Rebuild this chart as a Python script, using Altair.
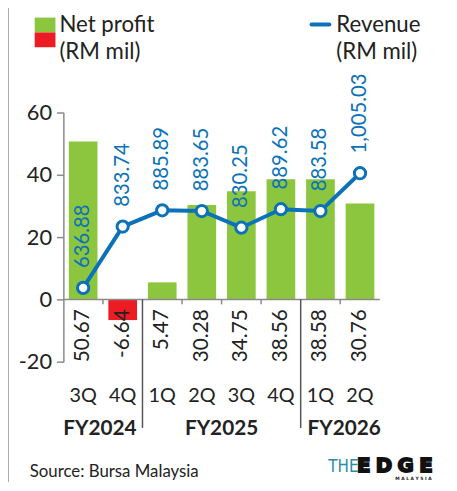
import altair as alt
import pandas as pd

keys = ["3Q FY2024", "4Q FY2024", "1Q FY2025", "2Q FY2025",
        "3Q FY2025", "4Q FY2025", "1Q FY2026", "2Q FY2026"]
quarters = ["3Q", "4Q", "1Q", "2Q", "3Q", "4Q", "1Q", "2Q"]
net_profit = [50.67, -6.64, 5.47, 30.28, 34.75, 38.56, 38.58, 30.76]
revenue = [636.88, 833.74, 885.89, 883.65, 830.25, 889.62, 883.58, 1005.03]
left_ticks = [-20, 0, 20, 40, 60]
right_ticks = [400, 800, 1200]
minor_sep = ["4Q FY2024", "2Q FY2025", "3Q FY2025", "4Q FY2025", "2Q FY2026"]
fy_sep = ["1Q FY2025", "1Q FY2026"]

GREEN = "#8cc63f"
RED = "#ed1c24"
BLUE = "#0b72b9"
GRAY = "#8a8a8a"
FONT = "Lato"
MINUS_FIX = "replace(datum.label, '\u2212', '-')"

df = pd.DataFrame({"key": keys, "q": quarters, "np": net_profit, "rev": revenue})
dummy = pd.DataFrame({"a": [0]})

X = alt.X("key:N", sort=keys, axis=None,
          scale=alt.Scale(paddingInner=0.275, paddingOuter=0.1375))
YL = alt.Scale(domain=[-20, 60], nice=False, zero=False)
YR = alt.Scale(domain=[400, 1200], nice=False, zero=False)

base = alt.Chart(df)

bars = base.mark_bar().encode(
    x=X,
    y=alt.Y("np:Q", scale=YL, title=None,
            axis=alt.Axis(values=left_ticks, grid=False, domainColor=GRAY, domainWidth=1.5,
                          tickColor=GRAY, tickWidth=1.5, tickSize=7, labelFontSize=22,
                          labelFont=FONT, labelColor="#222", labelPadding=5,
                          labelExpr=MINUS_FIX)),
    y2=alt.datum(0),
    color=alt.condition(alt.datum.np < 0, alt.value(RED), alt.value(GREEN)),
)

bar_labels = base.transform_calculate(
    lbl="replace(format(datum.np, '.2f'), '\u2212', '-')"
).mark_text(angle=270, align="right", baseline="middle", dx=-10,
            fontSize=21, font=FONT, color="#222").encode(
    x=X, y=alt.value(189), text="lbl:N")

baseline = alt.Chart(dummy).mark_rule(color=GRAY, strokeWidth=1.5).encode(
    x=alt.value(0), x2=alt.value(320), y=alt.value(189))

minor = alt.Chart(pd.DataFrame({"key": minor_sep})).mark_rule(
    color=GRAY, strokeWidth=1.5, xOffset=-20).encode(
    x=X, y=alt.value(189), y2=alt.value(194))

major = alt.Chart(pd.DataFrame({"key": fy_sep})).mark_rule(
    color="#555", strokeWidth=1.5, xOffset=-20).encode(
    x=X, y=alt.value(189), y2=alt.value(319))

q_labels = base.mark_text(fontSize=20, font=FONT, color="#222", baseline="alphabetic").encode(
    x=X, y=alt.value(293), text="q:N")

def fy_label(key, text, off):
    return alt.Chart(pd.DataFrame({"key": [key], "t": [text]})).mark_text(
        fontSize=21, font=FONT, fontWeight="bold", color="#222",
        baseline="alphabetic", xOffset=off).encode(x=X, y=alt.value(326), text="t:N")

fy1 = fy_label("4Q FY2024", "FY2024", -23)
fy2 = fy_label("3Q FY2025", "FY2025", -20)
fy3 = fy_label("2Q FY2026", "FY2026", -16)

def txt(s, x, y, size=22.5, color="#222", align="left", weight="normal", font=FONT,
        stroke=None, sw=0):
    kw = dict(text=s, fontSize=size, color=color, align=align,
              baseline="alphabetic", fontWeight=weight, font=font)
    if stroke:
        kw.update(stroke=stroke, strokeWidth=sw)
    return alt.Chart(dummy).mark_text(**kw).encode(x=alt.value(x), y=alt.value(y))

leg_g = alt.Chart(dummy).mark_rect(color=GREEN).encode(
    x=alt.value(-29), x2=alt.value(-8), y=alt.value(-96), y2=alt.value(-81))
leg_r = alt.Chart(dummy).mark_rect(color=RED).encode(
    x=alt.value(-29), x2=alt.value(-8), y=alt.value(-81), y2=alt.value(-66))
leg_b = alt.Chart(dummy).mark_rule(color=BLUE, strokeWidth=4, strokeCap="round").encode(
    x=alt.value(251), x2=alt.value(269), y=alt.value(-89))

border = alt.Chart(dummy).mark_rule(color="#aaaaaa", strokeWidth=2).encode(
    x=alt.value(-56), y=alt.value(-111), y2=alt.value(380))

edge_kw = dict(size=20, weight="bold", font="DejaVu Sans", color="#111",
               stroke="#111", sw=1.8)
decor = [
    leg_g, leg_r, leg_b, border,
    txt("Net profit", -4, -81), txt("(RM mil)", -4, -54),
    txt("Revenue", 276, -81), txt("(RM mil)", 276, -54),
    txt("Source: Bursa Malaysia", -34, 369, size=17),
    txt("THE", 268, 364, size=17, color="#2a8bab", font="DejaVu Sans Condensed"),
    txt("E", 297, 364, **edge_kw),
    txt("D", 316, 364, **edge_kw),
    txt("G", 338, 364, **edge_kw),
    txt("E", 360, 364, **edge_kw),
    txt("M A L A Y S I A", 354, 372, size=4.5, weight="bold", align="center",
        font="DejaVu Sans"),
]

left = alt.layer(bars, bar_labels, baseline, minor, major, q_labels, fy1, fy2, fy3, *decor)

line = base.mark_line(color=BLUE, strokeWidth=4).encode(
    x=X,
    y=alt.Y("rev:Q", scale=YR, title=None,
            axis=alt.Axis(orient="right", values=right_ticks, format=",", grid=False,
                          domainColor=GRAY, domainWidth=1.5, tickColor=GRAY, tickWidth=1.5,
                          tickSize=7, labelFontSize=22, labelFont=FONT, labelColor="#222",
                          labelPadding=5)))
pts = base.mark_circle(color="white", stroke=BLUE, strokeWidth=3, size=130, opacity=1).encode(
    x=X, y=alt.Y("rev:Q", scale=YR, axis=None))
rev_labels = base.mark_text(angle=270, align="left", baseline="middle", dx=20,
                            fontSize=20.5, font=FONT, color=BLUE).encode(
    x=X, y=alt.Y("rev:Q", scale=YR, axis=None), text=alt.Text("rev:Q", format=",.2f"))

right = alt.layer(line, pts, rev_labels)

chart = alt.layer(left, right).resolve_scale(y="independent").properties(
    width=320, height=252,
    autosize=alt.AutoSizeParams(type="none"),
    padding={"left": 56, "top": 103, "right": 70, "bottom": 119},
).configure_view(stroke=None).configure_text(font=FONT)

chart.save("out.html", embed_options={"renderer": "svg", "actions": False})
